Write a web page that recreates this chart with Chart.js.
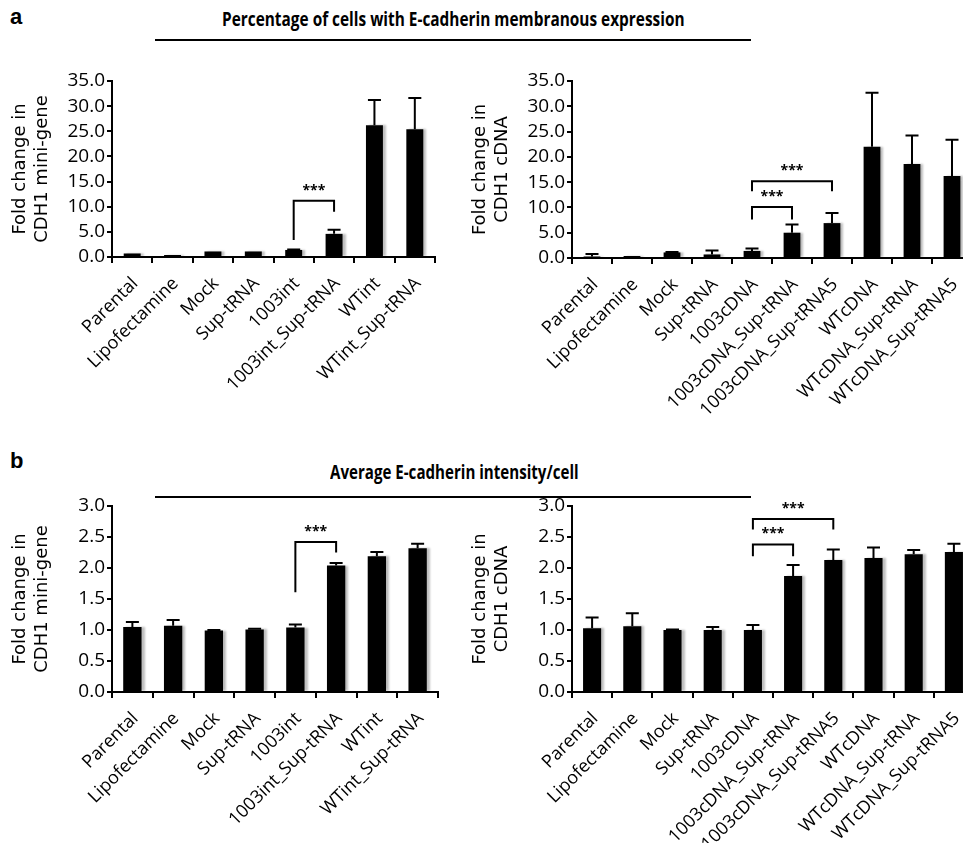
<!DOCTYPE html>
<html>
<head>
<meta charset="utf-8">
<script src="https://cdn.jsdelivr.net/npm/chart.js@4.4.1/dist/chart.umd.min.js"></script>
<style>
  body { margin: 0; background: #fff; overflow: hidden; width: 963px; height: 843px; position: relative; }
  .box { position: absolute; }
  .letter { position: absolute; font-family: "Liberation Sans", Arial, sans-serif; font-weight: bold; font-size: 22px; }
  .head { position: absolute; font-family: "Open Sans", sans-serif; font-weight: bold; font-size: 19px; white-space: nowrap; transform-origin: left center; }
  .rule { position: absolute; left: 155px; width: 596px; height: 2px; background: #000; }
</style>
</head>
<body>
<div class="letter" style="left:10px; top:4px;">a</div>
<div class="head" id="headA" style="left:222px; top:6px; transform: scaleX(0.81);">Percentage of cells with E-cadherin membranous expression</div>
<div class="rule" style="top:39px;"></div>

<div class="letter" style="left:10px; top:448px;">b</div>
<div class="head" id="headB" style="left:330px; top:459px; transform: scaleX(0.795);">Average E-cadherin intensity/cell</div>
<div class="rule" style="top:496px;"></div>

<div class="box" style="left:0; top:60px;"><canvas id="c1" width="450" height="380"></canvas></div>
<div class="box" style="left:460px; top:60px;"><canvas id="c2" width="520" height="380"></canvas></div>
<div class="box" style="left:0; top:480px;"><canvas id="c3" width="460" height="363"></canvas></div>
<div class="box" style="left:460px; top:480px;"><canvas id="c4" width="520" height="363"></canvas></div>

<script>
// categories
var intLabels = ['Parental', 'Lipofectamine', 'Mock', 'Sup-tRNA', '1003int', '1003int_Sup-tRNA', 'WTint', 'WTint_Sup-tRNA'];
var cdnaLabels = ['Parental', 'Lipofectamine', 'Mock', 'Sup-tRNA', '1003cDNA', '1003cDNA_Sup-tRNA', '1003cDNA_Sup-tRNA5', 'WTcDNA', 'WTcDNA_Sup-tRNA', 'WTcDNA_Sup-tRNA5'];

// a: percentage of cells with membranous expression (fold change)
var membIntMean = [0.7, 0.4, 1.1, 1.1, 1.4, 4.6, 26.2, 25.4];
var membIntErr  = [0, 0, 0, 0, 0.1, 0.8, 5.0, 6.2];
var membCdnaMean = [0.3, 0.4, 1.1, 0.7, 1.4, 5.0, 6.9, 22.0, 18.6, 16.2];
var membCdnaErr  = [0.5, 0, 0.1, 0.8, 0.5, 1.6, 2.0, 10.7, 5.6, 7.2];

// b: average intensity per cell (fold change)
var intenIntMean = [1.05, 1.07, 0.99, 1.01, 1.04, 2.04, 2.19, 2.32];
var intenIntErr  = [0.08, 0.09, 0.01, 0.01, 0.05, 0.04, 0.07, 0.07];
var intenCdnaMean = [1.03, 1.06, 1.0, 1.0, 1.0, 1.87, 2.13, 2.16, 2.22, 2.26];
var intenCdnaErr  = [0.17, 0.21, 0.01, 0.05, 0.08, 0.18, 0.17, 0.17, 0.07, 0.13];

// y axis ticks
var membTicks = { max: 35, step: 5 };
var intenTicks = { max: 3, step: 0.5 };

// significance brackets: [fromIndex, toIndex, leftLegEnd, top, rightLegEnd, label]
var membIntSig = [[4, 5, 3.4, 11.2, 9.0, '***']];
var membCdnaSig = [[4, 5, 7.6, 10.1, 7.6, '***'], [4, 6, 13.2, 15.2, 13.2, '***']];
var intenIntSig = [[4, 5, 1.61, 2.42, 2.25, '***']];
var intenCdnaSig = [[4, 5, 2.19, 2.38, 2.19, '***'], [4, 6, 2.62, 2.79, 2.62, '***']];

var errorBars = {
    id: 'errorBars',
    beforeDatasetDraw: function(chart) {
        var ctx = chart.ctx;
        ctx.save();
        ctx.shadowColor = 'rgba(0,0,0,0.25)';
        ctx.shadowOffsetX = 3;
        ctx.shadowOffsetY = 0;
        ctx.shadowBlur = 2;
    },
    afterDatasetDraw: function(chart) {
        chart.ctx.restore();
    },
    afterDatasetsDraw: function(chart) {
        var ctx = chart.ctx;
        var y = chart.scales.y;
        var meta = chart.getDatasetMeta(0);
        var errs = chart.config.options.errs;
        ctx.save();
        ctx.strokeStyle = '#000';
        ctx.lineWidth = 2;
        meta.data.forEach(function(bar, i) {
            if (!errs[i]) return;
            var v = chart.data.datasets[0].data[i];
            var top = y.getPixelForValue(v + errs[i]);
            ctx.beginPath();
            ctx.moveTo(bar.x, bar.y);
            ctx.lineTo(bar.x, top);
            ctx.moveTo(bar.x - 6.5, top);
            ctx.lineTo(bar.x + 6.5, top);
            ctx.stroke();
        });
        // brackets
        var sig = chart.config.options.sig;
        ctx.font = 'bold 14px "Open Sans"';
        ctx.textAlign = 'center';
        ctx.textBaseline = 'bottom';
        ctx.fillStyle = '#000';
        sig.forEach(function(s) {
            var x1 = meta.data[s[0]].x, x2 = meta.data[s[1]].x;
            var yt = y.getPixelForValue(s[3]);
            ctx.beginPath();
            ctx.moveTo(x1, y.getPixelForValue(s[2]));
            ctx.lineTo(x1, yt);
            ctx.lineTo(x2, yt);
            ctx.lineTo(x2, y.getPixelForValue(s[4]));
            ctx.stroke();
            ctx.fillText(s[5], (x1 + x2) / 2, yt - 3);
        });
        ctx.restore();
    }
};

function makeChart(id, labels, means, errs, sig, ticks, title, pad, xHeight, barPct) {
    return new Chart(document.getElementById(id), {
        type: 'bar',
        data: {
            labels: labels,
            datasets: [{
                data: means,
                backgroundColor: '#000',
                borderWidth: 0,
                barPercentage: barPct,
                categoryPercentage: 1
            }]
        },
        options: {
            responsive: false,
            animation: false,
            errs: errs,
            sig: sig,
            layout: { padding: pad },
            plugins: { legend: { display: false }, tooltip: { enabled: false } },
            scales: {
                x: {
                    grid: { offset: true, drawOnChartArea: false, drawTicks: true, tickLength: 6, color: '#000', lineWidth: 2 },
                    border: { display: true, color: '#000', width: 2 },
                    ticks: {
                        autoSkip: false, minRotation: 45, maxRotation: 45, padding: 10, labelOffset: 3,
                        color: '#000', font: { family: 'Open Sans', size: 18 }
                    },
                    afterFit: function(scale) { scale.height = xHeight; }
                },
                y: {
                    min: 0,
                    max: ticks.max,
                    grid: { drawOnChartArea: false, drawTicks: true, tickLength: 5, color: '#000', lineWidth: 2 },
                    border: { display: true, color: '#000', width: 2 },
                    ticks: {
                        stepSize: ticks.step, autoSkip: false, padding: 2, color: '#000',
                        font: { family: 'Open Sans', size: 19 },
                        callback: function(v) { return v.toFixed(1); }
                    },
                    title: {
                        display: true, text: title, color: '#000', padding: { top: 9, bottom: 4 },
                        font: { family: 'DejaVu Sans', size: 18, lineHeight: 1.25 }
                    },
                    afterFit: function(scale) { scale.width = 112; }
                }
            }
        },
        plugins: [errorBars]
    });
}

makeChart('c1', intLabels, membIntMean, membIntErr, membIntSig, membTicks,
    ['Fold change in', 'CDH1 mini-gene'], { top: 21, right: 15, left: 0, bottom: 0 }, 183, 0.42);
makeChart('c2', cdnaLabels, membCdnaMean, membCdnaErr, membCdnaSig, membTicks,
    ['Fold change in', 'CDH1 cDNA'], { top: 21, right: 8, left: 0, bottom: 0 }, 182, 0.42);
makeChart('c3', intLabels, intenIntMean, intenIntErr, intenIntSig, intenTicks,
    ['Fold change in', 'CDH1 mini-gene'], { top: 26, right: 22, left: 0, bottom: 0 }, 151, 0.45);
makeChart('c4', cdnaLabels, intenCdnaMean, intenCdnaErr, intenCdnaSig, intenTicks,
    ['Fold change in', 'CDH1 cDNA'], { top: 26, right: 6, left: 0, bottom: 0 }, 151, 0.45);
</script>
</body>
</html>
